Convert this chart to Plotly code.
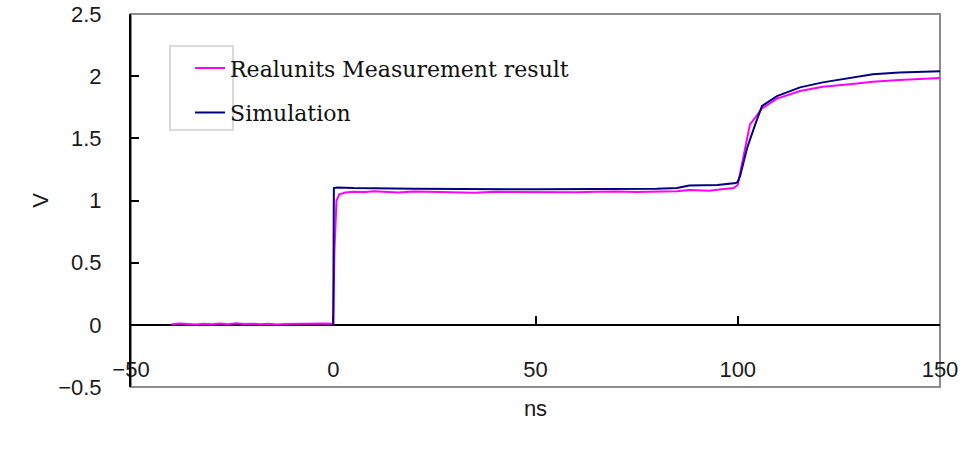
import plotly.graph_objects as go

# Measured waveform (real unit)
meas_x = [-40, -38, -36, -34, -32, -30, -28, -26, -24, -22, -20, -18, -16, -14, -12, -10, -8, -6, -4, -2, -0.5,
          0, 0.3, 0.8, 1.5, 3, 5, 8, 10, 13, 16, 20, 25, 30, 35, 40, 45, 50, 55, 60, 65, 70, 75, 80, 85,
          88, 90, 93, 96, 99, 100, 101.3, 103, 106, 109.7, 115.4, 121, 127.7, 133.4, 140, 145, 150]
meas_y = [0.005, 0.01, 0.006, 0.002, 0.008, 0.005, 0.01, 0.004, 0.012, 0.007, 0.009, 0.005, 0.008, 0.002, 0.006,
          0.008, 0.005, 0.01, 0.008, 0.01, 0.009,
          0.012, 0.6, 1.0, 1.05, 1.065, 1.07, 1.068, 1.075, 1.07, 1.065, 1.072, 1.068, 1.07, 1.063, 1.07, 1.068,
          1.072, 1.07, 1.066, 1.07, 1.072, 1.068, 1.07, 1.075,
          1.085, 1.08, 1.078, 1.09, 1.1, 1.125, 1.34, 1.61, 1.74, 1.82, 1.88, 1.915, 1.935, 1.955, 1.97, 1.975, 1.985]

# Simulated waveform
sim_x = [0, 0.15, 1, 5, 20, 50, 80, 85, 88, 95, 99.5, 100, 100.6, 102.3, 104.3, 106, 109.7, 115.4, 121,
         127.7, 133.4, 140, 150]
sim_y = [0.0, 1.1, 1.105, 1.1, 1.095, 1.09, 1.095, 1.1, 1.12, 1.125, 1.14, 1.15, 1.2, 1.42, 1.61, 1.76, 1.84,
         1.91, 1.95, 1.985, 2.015, 2.03, 2.04]

x_ticks = [-50, 0, 50, 100, 150]
y_ticks = [-0.5, 0, 0.5, 1, 1.5, 2, 2.5]

names = ["Realunits Measurement result", "Simulation"]

fig = go.Figure()
fig.add_trace(go.Scatter(x=meas_x, y=meas_y, mode="lines", name=names[0], legendgroup="a",
                         line=dict(color="#FF00FF", width=2)))
fig.add_trace(go.Scatter(x=sim_x, y=sim_y, mode="lines", name=names[1], legendgroup="b",
                         line=dict(color="#000080", width=2)))

tickfont = dict(family="Liberation Sans, Arial, sans-serif", size=22, color="#1a1a1a")

fig.update_layout(
    width=966, height=451,
    margin=dict(l=131, r=26, t=14, b=64),
    paper_bgcolor="white", plot_bgcolor="white",
    showlegend=True,
    legend=dict(x=0.073, y=0.911, xanchor="left", yanchor="top",
                font=dict(family="DejaVu Serif, serif", size=22, color="#111"),
                bgcolor="rgba(0,0,0,0)", borderwidth=0,
                traceorder="grouped", tracegroupgap=13),
    xaxis=dict(range=[-50, 150], tickvals=x_ticks, showgrid=False, zeroline=False,
               showline=True, linecolor="black", linewidth=2,
               ticks="inside", ticklen=8, tickwidth=1.5, tickcolor="black",
               anchor="free", position=1/6, ticklabelstandoff=25,
               tickfont=tickfont, automargin=False, layer="below traces",
               title=dict(text="ns", font=tickfont, standoff=18)),
    yaxis=dict(range=[-0.5, 2.5], tickvals=y_ticks, showgrid=False, zeroline=False,
               showline=True, linecolor="black", linewidth=2,
               ticks="inside", ticklen=8, tickwidth=1.5, tickcolor="black",
               ticklabelstandoff=23, tickfont=tickfont, automargin=False,
               title=dict(text="V", font=tickfont, standoff=3)),
    shapes=[
        dict(type="rect", xref="paper", yref="paper", x0=0, x1=1, y0=0, y1=1,
             line=dict(color="#8c8c8c", width=2), layer="below"),
        dict(type="rect", xref="paper", yref="paper", x0=0.0482, x1=0.126, y0=0.689, y1=0.914,
             line=dict(color="#d9d9d9", width=2), layer="below"),
    ],
)

# remove the default 8px page margin so the figure fills the 966x451 window exactly
fig.write_html("out.html", config={"displayModeBar": False},
               post_script="document.body.style.margin='0';")
